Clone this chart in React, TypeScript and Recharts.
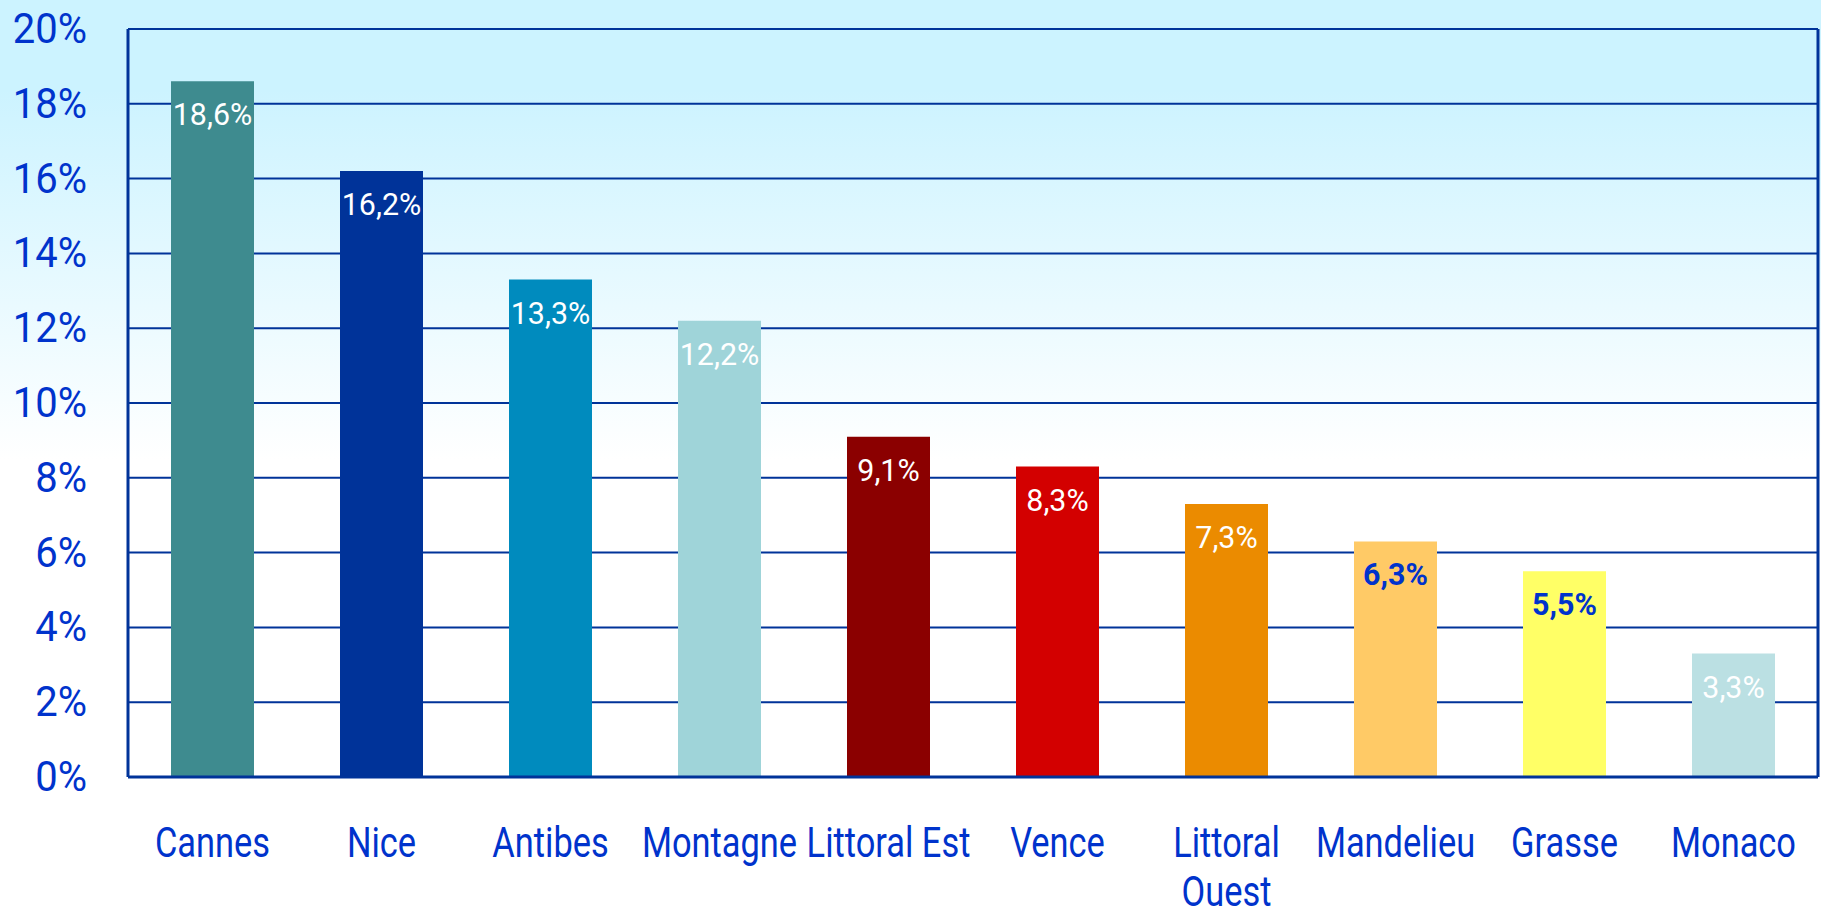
import React from "react";
import {
  BarChart,
  Bar,
  XAxis,
  YAxis,
  CartesianGrid,
  Cell,
  LabelList,
} from "recharts";

const categories = [
  "Cannes",
  "Nice",
  "Antibes",
  "Montagne",
  "Littoral Est",
  "Vence",
  "Littoral Ouest",
  "Mandelieu",
  "Grasse",
  "Monaco",
];

// share of each zone, in %
const shares = [18.6, 16.2, 13.3, 12.2, 9.1, 8.3, 7.3, 6.3, 5.5, 3.3];

const barColors = [
  "#3E8B8F",
  "#003399",
  "#008BBE",
  "#9FD4D9",
  "#8B0000",
  "#D30000",
  "#EB8B00",
  "#FFCA66",
  "#FFFF66",
  "#BBE0E3",
];

const labelColors = [
  "#FFFFFF",
  "#FFFFFF",
  "#FFFFFF",
  "#FFFFFF",
  "#FFFFFF",
  "#FFFFFF",
  "#FFFFFF",
  "#0033CC",
  "#0033CC",
  "#FFFFFF",
];

// how the category names are broken over lines under the axis
const tickLines: Record<string, string[]> = {
  "Littoral Ouest": ["Littoral", "Ouest"],
};

const yTicks = [0, 2, 4, 6, 8, 10, 12, 14, 16, 18, 20];

// no condensed font installed, so Roboto is squeezed horizontally
const FONT = "Roboto, 'DejaVu Sans', sans-serif";
const BLUE = "#0033CC";
const LINE = "#003399";

const data = categories.map((name, i) => ({
  name,
  value: shares[i],
  color: barColors[i],
  labelColor: labelColors[i],
}));

function CategoryTick(props: any) {
  const { x, y, payload } = props;
  const lines = tickLines[payload.value] ?? [payload.value];
  return (
    <g>
      {lines.map((line: string, i: number) => (
        <text
          key={i}
          transform={`translate(${x},${y + 80 + i * 49}) scale(0.8,1)`}
          textAnchor="middle"
          fill={BLUE}
          fontSize={43}
          fontFamily={FONT}
        >
          {line}
        </text>
      ))}
    </g>
  );
}

function PercentTick(props: any) {
  const { x, y, payload } = props;
  return (
    <text
      transform={`translate(${x},${y + 14}) scale(0.93,1)`}
      textAnchor="end"
      fill={BLUE}
      fontSize={43}
      fontFamily={FONT}
    >
      {`${payload.value}%`}
    </text>
  );
}

function ValueLabel(props: any) {
  const { x, y, width, value, index } = props;
  const blue = labelColors[index] !== "#FFFFFF";
  return (
    <text
      transform={`translate(${x + width / 2},${y + 44}) scale(0.95,1)`}
      textAnchor="middle"
      fill={labelColors[index]}
      fontSize={32}
      fontWeight={blue ? 700 : 400}
      fontFamily={FONT}
    >
      {value.toFixed(1).replace(".", ",") + "%"}
    </text>
  );
}

export default function App() {
  return (
    <div
      style={{
        position: "absolute",
        left: 0,
        top: 0,
        width: 1821,
        height: 912,
        background: "linear-gradient(to bottom, #CCF3FF 0px, #CCF3FF 90px, #FFFFFF 460px, #FFFFFF 912px)",
      }}
    >
      <BarChart
        width={1821}
        height={912}
        data={data}
        margin={{ top: 29, right: 0, left: 0, bottom: 0 }}
        barCategoryGap={0}
      >
        <CartesianGrid vertical={false} stroke={LINE} strokeWidth={2} strokeOpacity={1} />
        <XAxis
          dataKey="name"
          height={135}
          tickSize={0}
          tickMargin={0}
          interval={0}
          axisLine={{ stroke: LINE, strokeWidth: 3 }}
          tick={<CategoryTick />}
        />
        <XAxis
          xAxisId="top"
          dataKey="name"
          orientation="top"
          height={0}
          tick={false}
          tickLine={false}
          axisLine={{ stroke: LINE, strokeWidth: 3 }}
        />
        <YAxis
          width={128}
          domain={[0, 20]}
          ticks={yTicks}
          tickSize={0}
          tickMargin={41}
          interval={0}
          axisLine={{ stroke: LINE, strokeWidth: 3 }}
          tick={<PercentTick />}
        />
        <YAxis
          yAxisId="right"
          orientation="right"
          width={3}
          domain={[0, 20]}
          tick={false}
          tickLine={false}
          axisLine={{ stroke: LINE, strokeWidth: 3 }}
        />
        <Bar dataKey="value" barSize={83} isAnimationActive={false}>
          {data.map((d, i) => (
            <Cell key={i} fill={d.color} />
          ))}
          <LabelList dataKey="value" content={<ValueLabel />} />
        </Bar>
      </BarChart>
    </div>
  );
}
